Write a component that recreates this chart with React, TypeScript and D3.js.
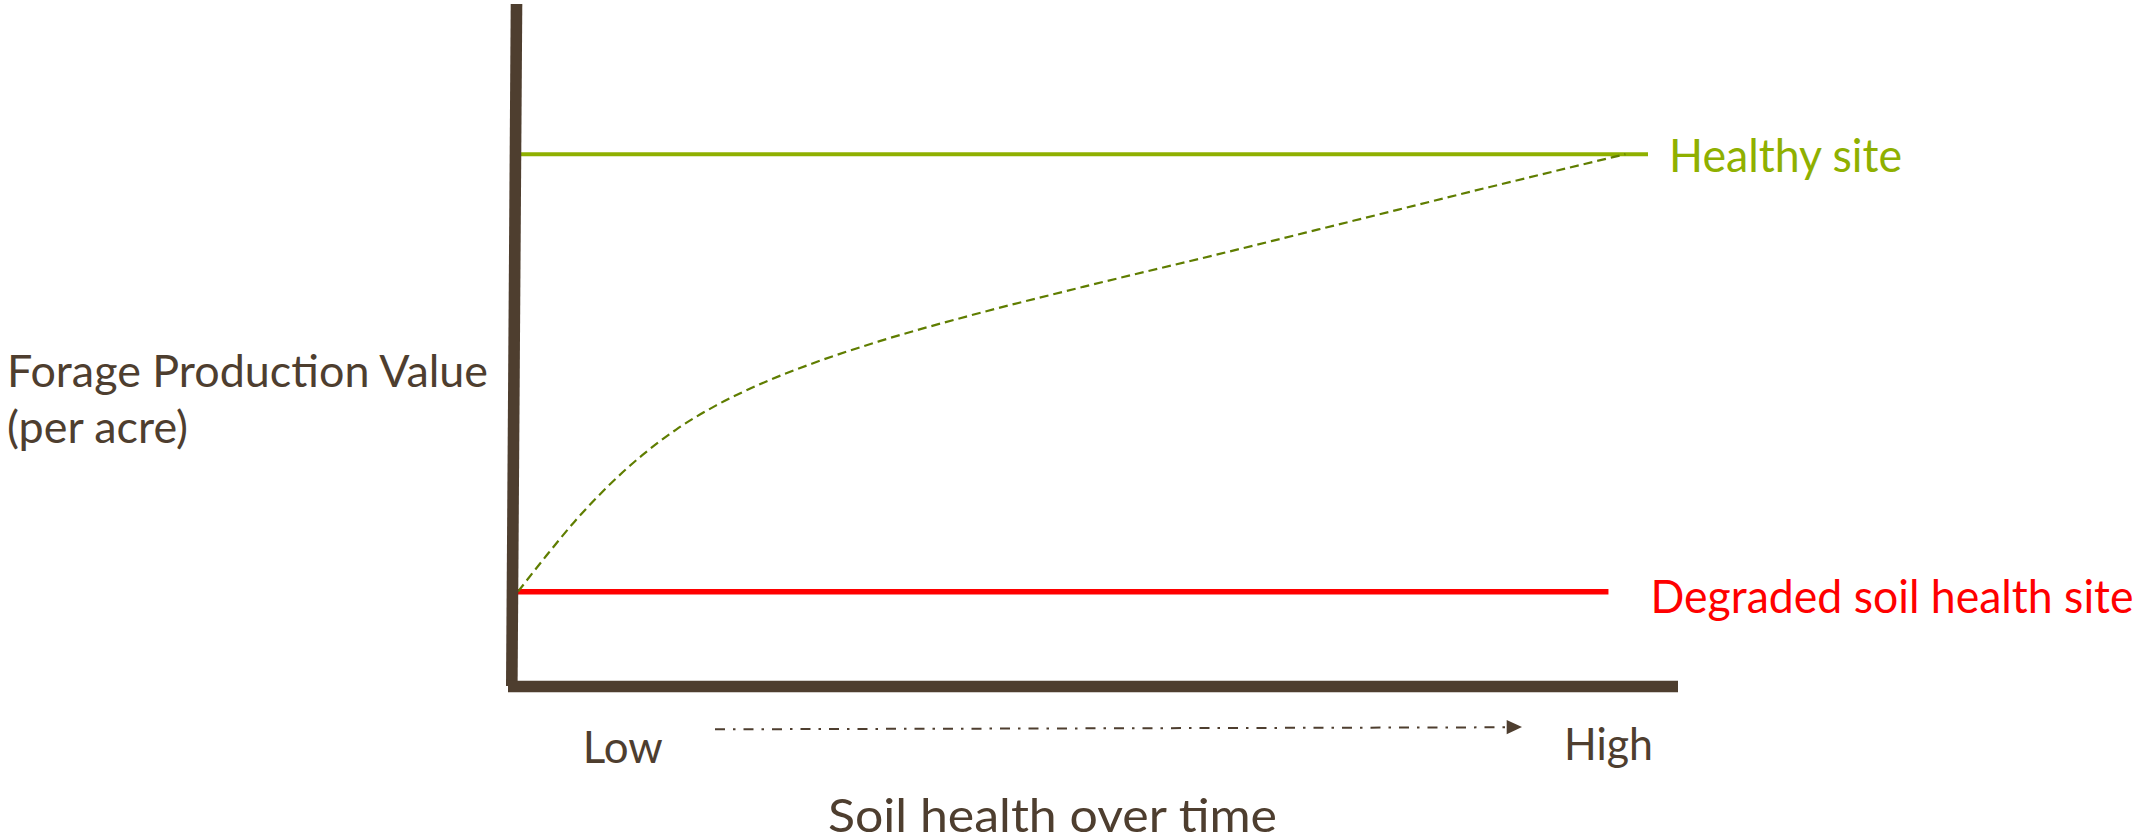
import React from "react";
import * as d3 from "d3";

// ---- data ----
const timeSteps = [0, 2.5, 5, 8, 11, 14, 17.5, 21.5, 26, 32, 40, 50, 62, 74, 86, 98];
const recoveryValues = [13.9, 19.15, 24.15, 29.4, 33.9, 37.65, 41.15, 44.35, 47.3, 50.6, 54.35, 58.55, 63.35, 68.27, 73.19, 78.0];
const healthyLevel = [78.0, 78.0];
const healthySpan = [0, 100];
const degradedLevel = [13.9, 13.9];
const degradedSpan = [0, 96.5];
const xTickLabels = ["Low", "High"];
const seriesLabels = ["Healthy site", "Degraded soil health site"];
const yTitle = ["Forage Production Value", "(per acre)"];
const xTitle = "Soil health over time";

const W = 2138;
const H = 839;
const BROWN = "#4e3e2f";
const GREEN = "#8fb000";
const OLIVE = "#5f7d00";
const RED = "#ff0000";
const FONT = "Lato, 'Open Sans', sans-serif";

export default function App() {
  const x = d3.scaleLinear().domain([0, 100]).range([518, 1648]);
  const y = d3.scaleLinear().domain([0, 100]).range([686.5, 4]);

  const curvePts = timeSteps.map((t, i) => [t, recoveryValues[i]] as [number, number]);
  const line = d3
    .line<[number, number]>()
    .x((d) => x(d[0]))
    .y((d) => y(d[1]))
    .curve(d3.curveMonotoneX);

  const healthyPts = healthySpan.map((t, i) => [t, healthyLevel[i]] as [number, number]);
  const degradedPts = degradedSpan.map((t, i) => [t, degradedLevel[i]] as [number, number]);
  const straight = d3
    .line<[number, number]>()
    .x((d) => x(d[0]))
    .y((d) => y(d[1]));

  return (
    <svg
      width={W}
      height={H}
      viewBox={`0 0 ${W} ${H}`}
      style={{ position: "absolute", left: 0, top: 0, display: "block", background: "#fff" }}
    >
      {/* healthy line */}
      <path d={straight(healthyPts) || ""} stroke={GREEN} strokeWidth={4} fill="none" />
      {/* degraded line */}
      <path d={straight(degradedPts) || ""} stroke={RED} strokeWidth={5.5} fill="none" />
      {/* recovery curve */}
      <path
        d={line(curvePts) || ""}
        stroke={OLIVE}
        strokeWidth={2.2}
        strokeDasharray="9,5"
        fill="none"
      />

      {/* axes */}
      <line x1={516.5} y1={4} x2={511.8} y2={686} stroke={BROWN} strokeWidth={11.6} />
      <line x1={508} y1={686.5} x2={1678} y2={686.5} stroke={BROWN} strokeWidth={11.6} />

      {/* direction arrow */}
      <line
        x1={715}
        y1={729.3}
        x2={1505}
        y2={727.3}
        stroke={BROWN}
        strokeWidth={2}
        strokeDasharray="10,8,2.5,8"
      />
      <path d="M1506.7,720 L1522,727 L1506.7,734.3 Z" fill={BROWN} />

      {/* series labels */}
      <text x={1669} y={171.5} fill={GREEN} fontFamily={FONT} fontSize={45.5}
        textLength={233} lengthAdjust="spacingAndGlyphs">{seriesLabels[0]}</text>
      <text x={1650.5} y={613} fill={RED} fontFamily={FONT} fontSize={47}
        textLength={483} lengthAdjust="spacingAndGlyphs">{seriesLabels[1]}</text>

      {/* y title */}
      <text x={7} y={386.7} fill={BROWN} fontFamily={FONT} fontSize={44}
        textLength={481} lengthAdjust="spacingAndGlyphs">{yTitle[0]}</text>
      <text x={7} y={443} fill={BROWN} fontFamily={FONT} fontSize={44}
        textLength={181} lengthAdjust="spacingAndGlyphs">{yTitle[1]}</text>

      {/* x tick labels */}
      <text x={582.7} y={762.5} fill={BROWN} fontFamily={FONT} fontSize={44}
        textLength={80} lengthAdjust="spacingAndGlyphs">{xTickLabels[0]}</text>
      <text x={1564} y={760} fill={BROWN} fontFamily={FONT} fontSize={45}
        textLength={89} lengthAdjust="spacingAndGlyphs">{xTickLabels[1]}</text>

      {/* x title */}
      <text x={828} y={832} fill={BROWN} fontFamily={FONT} fontSize={47}
        textLength={449} lengthAdjust="spacingAndGlyphs">{xTitle}</text>
    </svg>
  );
}
